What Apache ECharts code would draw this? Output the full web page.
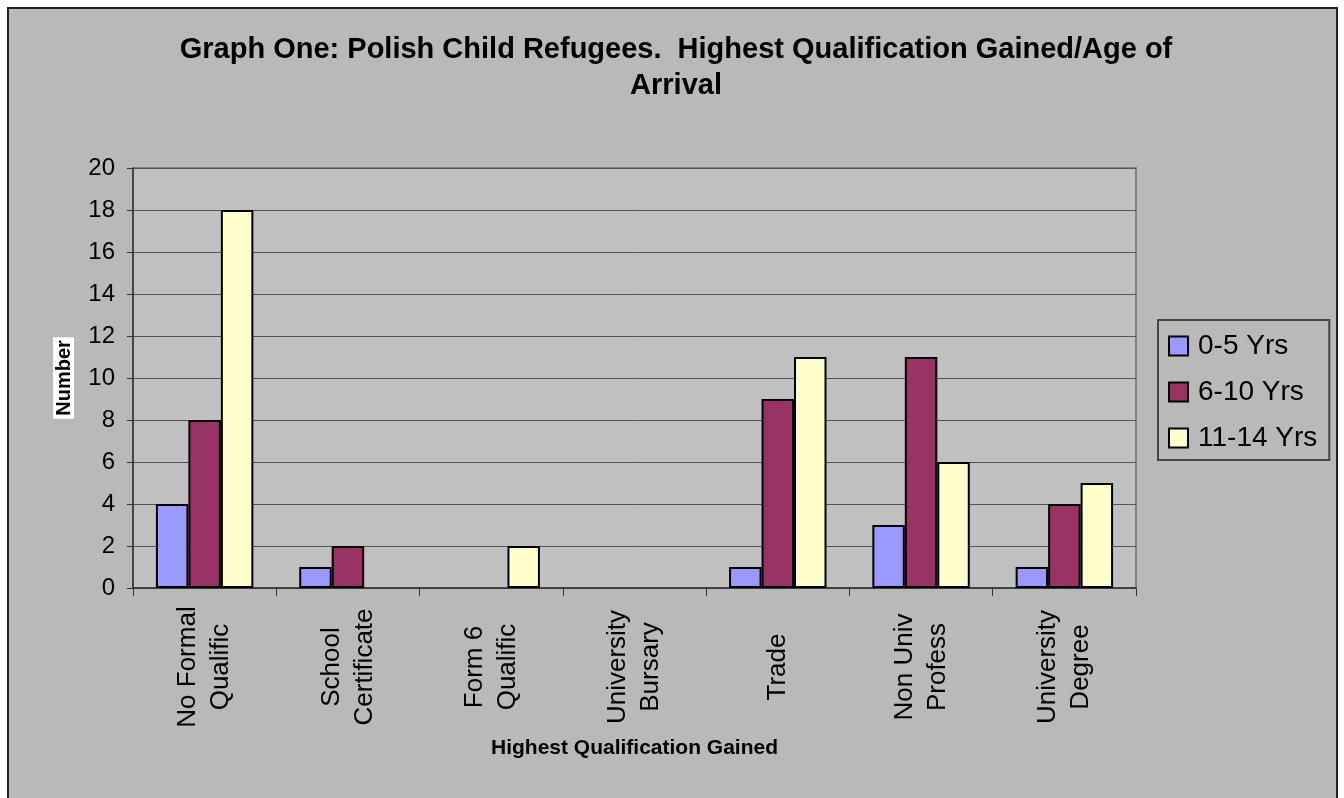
<!DOCTYPE html>
<html>
<head>
<meta charset="utf-8">
<script src="https://cdn.jsdelivr.net/npm/echarts@6/dist/echarts.min.js"></script>
<style>
html,body{margin:0;padding:0;background:#fff;}
#chart{width:1344px;height:798px;}
</style>
</head>
<body>
<div id="chart"></div>
<script>
const categories = ['No Formal\nQualific', 'School\nCertificate', 'Form 6\nQualific', 'University\nBursary', 'Trade', 'Non Univ\nProfess', 'University\nDegree'];
const age0to5 = [4, 1, 0, 0, 1, 3, 1];
const age6to10 = [8, 2, 0, 0, 9, 11, 4];
const age11to14 = [18, 0, 2, 0, 11, 6, 5];
const seriesNames = ['0-5 Yrs', '6-10 Yrs', '11-14 Yrs'];
const yTicks = [0, 2, 4, 6, 8, 10, 12, 14, 16, 18, 20];

const colors = ['#9999ff', '#993366', '#ffffcc'];
const chart = echarts.init(document.getElementById('chart'), null, {renderer: 'canvas'});
const font = 'Liberation Sans, Arial, sans-serif';

function mkSeries(name, data, color) {
  return {
    name: name,
    type: 'bar',
    data: data.map(function (v) {
      return v === 0 ? {value: v, itemStyle: {borderWidth: 0, opacity: 0}} : v;
    }),
    barGap: '0%',
    barCategoryGap: '32%',
    itemStyle: {color: color, borderColor: '#000', borderWidth: 2},
    emphasis: {disabled: true}
  };
}

chart.setOption({
  animation: false,
  backgroundColor: '#ffffff',
  graphic: [{
    type: 'rect', z: -10, silent: true,
    shape: {x: 8, y: 8, width: 1329, height: 800},
    style: {fill: '#b9b9b9', stroke: '#222', lineWidth: 2}
  }],
  title: {
    text: 'Graph One: Polish Child Refugees.  Highest Qualification Gained/Age of\nArrival',
    left: 671, top: 27, textAlign: 'center',
    textStyle: {fontFamily: font, fontWeight: 'bold', fontSize: 29, lineHeight: 36, color: '#000'}
  },
  legend: {
    orient: 'vertical', left: 1158, top: 320,
    data: seriesNames,
    icon: 'rect', itemWidth: 19, itemHeight: 19, itemGap: 18,
    padding: [12, 12, 8, 10],
    borderColor: '#444', borderWidth: 2,
    backgroundColor: '#b9b9b9',
    itemStyle: {borderColor: '#000', borderWidth: 2},
    textStyle: {fontFamily: font, fontSize: 28, color: '#000', padding: [0, 0, 0, 5]}
  },
  grid: {
    left: 133, top: 168, right: 208, bottom: 210,
    show: true, backgroundColor: '#c0c0c0', borderColor: '#808080', borderWidth: 2
  },
  xAxis: {
    type: 'category', data: categories,
    name: 'Highest Qualification Gained', nameLocation: 'middle', nameGap: 150,
    nameTextStyle: {fontFamily: font, fontWeight: 'bold', fontSize: 21, color: '#000'},
    axisLine: {lineStyle: {color: '#333', width: 1.5}},
    axisTick: {show: true, length: 8, lineStyle: {color: '#333'}},
    axisLabel: {
      rotate: 90, interval: 0, margin: 79, align: 'center', verticalAlign: 'middle',
      fontFamily: font, fontSize: 26, lineHeight: 33, color: '#000'
    }
  },
  yAxis: {
    type: 'value', min: 0, max: 20, interval: 2,
    name: 'Number', nameLocation: 'middle', nameGap: 59, nameRotate: 90,
    nameTextStyle: {fontFamily: font, fontWeight: 'bold', fontSize: 20, color: '#000', backgroundColor: '#fff', padding: [1, 3, 0, 3]},
    axisLine: {show: true, lineStyle: {color: '#333', width: 1.5}},
    axisTick: {show: true, length: 6, lineStyle: {color: '#333'}},
    axisLabel: {
      margin: 18, fontFamily: font, fontSize: 24, color: '#000',
      formatter: function (v) { return yTicks.indexOf(v) >= 0 ? String(v) : ''; }
    },
    splitLine: {show: true, lineStyle: {color: '#555', width: 1}}
  },
  series: [
    mkSeries(seriesNames[0], age0to5, colors[0]),
    mkSeries(seriesNames[1], age6to10, colors[1]),
    mkSeries(seriesNames[2], age11to14, colors[2])
  ]
});
</script>
</body>
</html>
